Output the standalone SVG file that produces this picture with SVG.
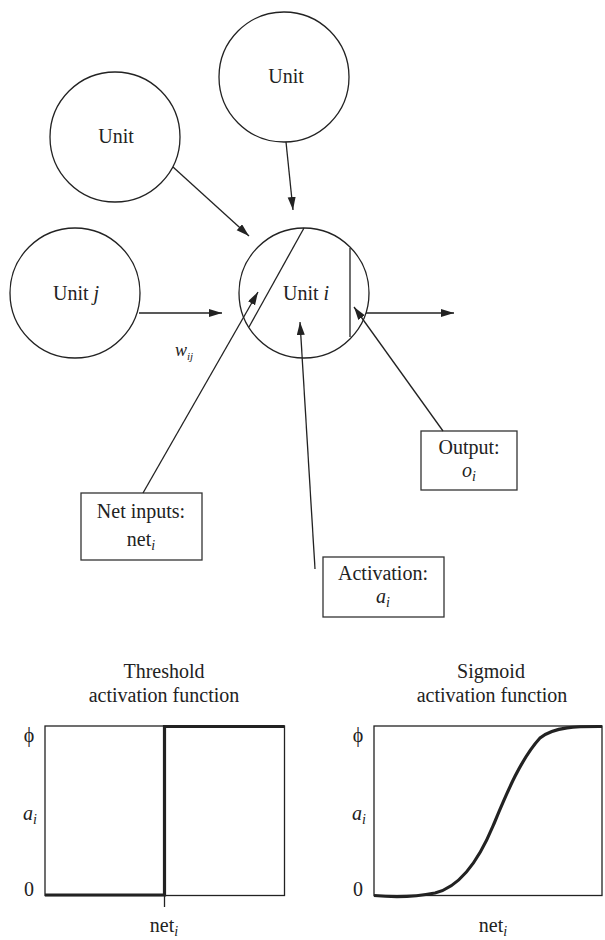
<svg xmlns="http://www.w3.org/2000/svg" width="605" height="940" viewBox="0 0 605 940">
<style>
  .node { fill: none; stroke: #222; stroke-width: 1.3; }
  .box { fill: none; stroke: #333; stroke-width: 1.3; }
  .conn { fill: none; stroke: #222; stroke-width: 1.3; }
  .thick { fill: none; stroke: #222; stroke-width: 3.2; }
  text { font-family: "Liberation Serif", "Times New Roman", serif; font-size: 20px; fill: #222; }
  .c { text-anchor: middle; }
  .it { font-style: italic; }
  .sub { font-style: italic; font-size: 14px; }
</style>
<defs>
  <marker id="arr" markerUnits="userSpaceOnUse" markerWidth="14" markerHeight="10" refX="13" refY="4" orient="auto">
    <path d="M0,0 L13,4 L0,8 z" fill="#222"/>
  </marker>
</defs>

<rect width="605" height="940" fill="#fff"/>

<g id="unit-top">
  <circle class="node" cx="284" cy="77" r="65"/>
  <text class="c" x="286" y="83">Unit</text>
</g>
<g id="unit-left">
  <circle class="node" cx="115" cy="137" r="65"/>
  <text class="c" x="116" y="143">Unit</text>
</g>
<g id="unit-j">
  <circle class="node" cx="75" cy="293" r="65"/>
  <text class="c" x="76" y="300">Unit <tspan class="it">j</tspan></text>
</g>
<g id="unit-i">
  <circle class="node" cx="304" cy="293" r="65"/>
  <line class="node" x1="304" y1="228" x2="249" y2="327"/>
  <line class="node" x1="350" y1="248" x2="350" y2="337"/>
  <text class="c" x="306" y="300">Unit <tspan class="it">i</tspan></text>
</g>

<g id="box-net">
  <rect class="box" x="81" y="493" width="121" height="67"/>
  <text class="c" x="141" y="518">Net inputs:</text>
  <text class="c" x="141" y="546">net<tspan class="sub" dy="4">i</tspan></text>
</g>
<g id="box-activation">
  <rect class="box" x="323" y="557" width="121" height="60"/>
  <text class="c" x="383" y="580">Activation:</text>
  <text class="c" x="383" y="603"><tspan class="it">a</tspan><tspan class="sub" dy="4">i</tspan></text>
</g>
<g id="box-output">
  <rect class="box" x="421" y="431" width="96" height="59"/>
  <text class="c" x="469" y="454">Output:</text>
  <text class="c" x="469" y="477"><tspan class="it">o</tspan><tspan class="sub" dy="4">i</tspan></text>
</g>

<g id="connectors">
  <line class="conn" x1="286" y1="142" x2="293" y2="210" marker-end="url(#arr)"/>
  <line class="conn" x1="173" y1="167" x2="249" y2="236" marker-end="url(#arr)"/>
  <line class="conn" x1="139" y1="313" x2="222" y2="313" marker-end="url(#arr)"/>
  <line class="conn" x1="366" y1="313" x2="454" y2="313" marker-end="url(#arr)"/>
  <line class="conn" x1="143" y1="493" x2="258" y2="292" marker-end="url(#arr)"/>
  <line class="conn" x1="315" y1="569" x2="300" y2="322" marker-end="url(#arr)"/>
  <line class="conn" x1="443" y1="431" x2="354" y2="307" marker-end="url(#arr)"/>
</g>

<g id="weight-label">
  <text x="175" y="356" class="it" style="font-size:18px">w<tspan style="font-size:11px" dy="4">ij</tspan></text>
</g>

<g id="threshold-graph">
  <text class="c" x="164" y="678">Threshold</text>
  <text class="c" x="164" y="702">activation function</text>
  <rect class="box" x="45" y="726" width="239.5" height="169.5" style="stroke:#222"/>
  <path class="thick" d="M45,895 L164.5,895 L164.5,726.5 L284.5,726.5"/>
  <line class="conn" x1="164.5" y1="895" x2="164.5" y2="907"/>
  <text class="c" x="29" y="742">ϕ</text>
  <text class="c" x="30" y="820"><tspan class="it">a</tspan><tspan class="sub" dy="4">i</tspan></text>
  <text class="c" x="29" y="896">0</text>
  <text class="c" x="164" y="932">net<tspan class="sub" dy="4">i</tspan></text>
</g>

<g id="sigmoid-graph">
  <text class="c" x="491" y="678">Sigmoid</text>
  <text class="c" x="492" y="702">activation function</text>
  <rect class="box" x="374" y="726" width="228" height="169.5" style="stroke:#222"/>
  <path class="thick" d="M374,895.5 C395,897.5 415,897 435,893 C460,887 478,862 493,826 C506,795 520,760 540,738 C555,726 580,726.5 602,726.5"/>
  <text class="c" x="358" y="742">ϕ</text>
  <text class="c" x="359" y="820"><tspan class="it">a</tspan><tspan class="sub" dy="4">i</tspan></text>
  <text class="c" x="358" y="896">0</text>
  <text class="c" x="493" y="932">net<tspan class="sub" dy="4">i</tspan></text>
</g>
</svg>
